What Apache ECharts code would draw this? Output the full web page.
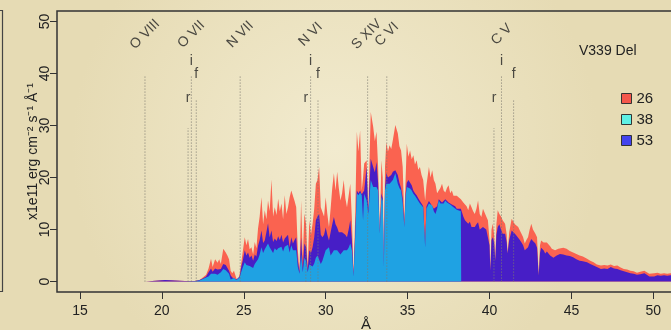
<!DOCTYPE html>
<html>
<head>
<meta charset="utf-8">
<title>V339 Del</title>
<script src="https://cdn.jsdelivr.net/npm/echarts@6/dist/echarts.min.js"></script>
<style>
  html, body { margin: 0; padding: 0; }
  #chart { width: 671px; height: 330px; }
</style>
</head>
<body>
<div id="chart"></div>
<script>
// wavelength grid (Angstrom) and fluxes (x1e11 erg cm-2 s-1 A-1)
const wave = [
  13.6, 19.0, 19.6, 20.2, 20.8, 21.4, 22.0, 22.3, 22.5, 22.7,
  22.85, 23.0, 23.1, 23.25, 23.4, 23.5, 23.6, 23.75, 23.9, 24.0,
  24.1, 24.2, 24.3, 24.4, 24.55, 24.65, 24.75, 24.85, 24.95, 25.06,
  25.16, 25.26, 25.36, 25.47, 25.57, 25.67, 25.77, 25.87, 25.97, 26.08,
  26.18, 26.28, 26.38, 26.48, 26.58, 26.69, 26.79, 26.89, 27.0, 27.1,
  27.2, 27.3, 27.4, 27.5, 27.6, 27.7, 27.8, 27.9, 28.0, 28.1,
  28.2, 28.3, 28.4, 28.5, 28.6, 28.7, 28.8, 28.9, 29.0, 29.1,
  29.2, 29.3, 29.4, 29.5, 29.6, 29.7, 29.8, 29.9, 30.0, 30.1,
  30.2, 30.3, 30.4, 30.5, 30.6, 30.7, 30.8, 30.9, 31.0, 31.1,
  31.2, 31.3, 31.4, 31.5, 31.6, 31.7, 31.8, 31.9, 32.0, 32.1,
  32.2, 32.28, 32.35, 32.5, 32.6, 32.75, 32.9, 33.0, 33.1, 33.2,
  33.3, 33.4, 33.48, 33.55, 33.62, 33.7, 33.8, 33.9, 34.0, 34.1,
  34.25, 34.4, 34.5, 34.6, 34.7, 34.8, 34.88, 34.95, 35.05, 35.15,
  35.25, 35.35, 35.45, 35.55, 35.65, 35.75, 35.85, 35.95, 36.07, 36.15,
  36.3, 36.4, 36.5, 36.6, 36.7, 36.8, 36.9, 37.0, 37.1, 37.2,
  37.3, 37.4, 37.5, 37.6, 37.7, 37.8, 37.9, 38.0, 38.1, 38.25,
  38.27, 38.4, 38.5, 38.6, 38.7, 38.8, 38.9, 39.0, 39.1, 39.2,
  39.3, 39.4, 39.5, 39.6, 39.7, 39.8, 39.9, 40.0, 40.05, 40.12,
  40.2, 40.28, 40.35, 40.42, 40.5, 40.6, 40.7, 40.8, 40.9, 40.95,
  41.05, 41.1, 41.2, 41.35, 41.45, 41.55, 41.65, 41.75, 41.85, 41.95,
  42.05, 42.15, 42.25, 42.35, 42.45, 42.55, 42.65, 42.8, 42.9, 43.0,
  43.08, 43.15, 43.3, 43.4, 43.5, 43.6, 43.7, 43.8, 43.9, 44.0,
  44.1, 44.2, 44.3, 44.5, 44.7, 44.9, 45.1, 45.3, 45.5, 45.7,
  45.95, 46.15, 46.35, 46.55, 46.8, 47.0, 47.2, 47.4, 47.6, 47.8,
  48.0, 48.2, 48.4, 48.6, 48.8, 49.0, 49.2, 49.45, 49.6, 49.75,
  50.05, 50.25, 50.45, 50.65, 50.85, 51.05, 51.35
]

// day 26
const flux26 = [
  0, 0, 0.15, 0.3, 0.2, 0.1, 0.1, 0.3, 0.8, 1.3,
  2.5, 4.4, 2.8, 4.3, 3.6, 4.3, 3.4, 6.3, 5.6, 5.0,
  4.3, 2.1, 1.6, 2.1, 0.6, 0.2, 1.5, 3.7, 6.0, 8.5,
  7.0, 8.2, 6.2, 6.6, 5.2, 7.6, 6.4, 10.2, 12.5, 16.2,
  11.0, 13.7, 12.0, 15.6, 13.5, 19.6, 12.5, 14.3, 12.8, 15.9,
  13.5, 15.0, 12.0, 16.6, 13.0, 14.3, 16.2, 17.5, 17.5, 15.5,
  14.3, 6.0, 2.1, 15.6, 4.7, 13.1, 11.1, 2.8, 11.8, 9.0,
  11.1, 14.0, 18.8, 19.5, 22.0, 14.3, 14.3, 12.5, 16.2, 13.0,
  10.5, 14.0, 18.0, 20.8, 17.5, 21.1, 18.0, 15.6, 17.0, 19.5,
  16.0, 14.3, 16.5, 18.8, 12.0, 1.5, 12.4, 28.8, 25.0, 29.1,
  17.5, 20.0, 22.7, 23.3, 13.7, 32.6, 29.7, 27.0, 28.8, 22.0,
  9.2, 23.3, 20.0, 2.8, 22.0, 26.8, 25.0, 26.2, 25.5, 27.2,
  30.1, 28.5, 26.0, 25.2, 22.0, 12.0, 20.0, 26.5, 24.0, 25.2,
  23.5, 24.3, 22.5, 23.3, 21.5, 22.0, 20.5, 19.5, 15.6, 18.5,
  22.0, 20.0, 21.4, 19.5, 18.8, 17.0, 17.5, 18.0, 18.8, 17.5,
  17.1, 18.0, 18.5, 17.0, 17.5, 16.5, 16.2, 16.5, 16.2, 15.8,
  15.6, 15.2, 15.0, 14.5, 13.7, 15.0, 14.3, 13.5, 13.0, 14.0,
  15.6, 13.0, 12.4, 14.0, 13.7, 12.5, 11.8, 8.0, 2.1, 10.0,
  11.1, 9.0, 4.0, 11.0, 13.7, 13.0, 12.5, 11.8, 12.0, 11.1,
  9.0, 5.4, 9.5, 12.1, 11.5, 11.0, 10.8, 10.5, 9.8, 9.2,
  8.5, 7.3, 8.0, 8.5, 10.0, 11.1, 10.0, 9.2, 8.5, 1.2,
  7.0, 7.9, 7.5, 7.3, 7.5, 7.6, 6.8, 6.3, 6.2, 6.0,
  6.3, 6.3, 6.6, 6.5, 6.3, 5.9, 5.6, 5.3, 5.0, 4.8,
  4.4, 4.0, 3.7, 3.3, 3.1, 3.2, 3.1, 3.3, 3.0, 3.1,
  2.7, 2.4, 2.3, 2.1, 2.0, 1.7, 1.9, 2.1, 1.8, 1.5,
  1.6, 1.7, 1.5, 1.6, 1.5, 1.6, 1.6
]

// day 53
const flux53 = [
  0, 0, 0.15, 0.3, 0.2, 0.1, 0.1, 0.3, 0.6, 1.0,
  1.8, 2.5, 1.9, 2.5, 2.3, 2.6, 2.4, 3.4, 3.2, 2.9,
  2.1, 1.2, 0.8, 1.0, 0.4, 0.2, 1.0, 2.9, 4.2, 6.0,
  5.0, 5.6, 4.6, 5.0, 4.0, 5.2, 4.8, 6.9, 8.0, 9.8,
  7.4, 7.9, 9.5, 11.2, 8.5, 9.8, 7.6, 8.3, 7.8, 8.7,
  8.0, 9.0, 7.5, 8.3, 8.4, 9.0, 6.6, 8.5, 7.3, 8.0,
  8.5, 4.0, 1.8, 8.5, 2.5, 7.3, 6.6, 2.2, 6.0, 5.5,
  6.6, 8.5, 11.8, 12.5, 13.0, 9.0, 8.5, 9.0, 10.4, 9.0,
  7.9, 9.5, 11.0, 12.4, 11.0, 10.4, 9.5, 9.2, 9.5, 9.8,
  9.0, 8.5, 10.0, 11.8, 8.0, 1.2, 9.5, 17.5, 17.0, 17.5,
  16.8, 17.0, 17.5, 22.0, 13.5, 23.6, 22.0, 21.0, 23.0, 19.0,
  9.2, 17.0, 16.0, 2.8, 18.0, 20.8, 20.0, 20.1, 20.5, 21.1,
  21.4, 20.5, 19.0, 18.0, 16.0, 10.5, 17.0, 19.0, 19.5, 19.5,
  18.5, 17.5, 17.0, 16.6, 16.0, 15.5, 15.0, 14.5, 7.0, 14.5,
  15.5, 15.0, 15.0, 14.0, 13.7, 14.5, 15.8, 15.5, 15.2, 15.5,
  15.8, 15.5, 15.2, 15.0, 14.8, 14.5, 14.5, 14.0, 14.3, 14.0,
  13.7, 12.5, 11.8, 12.0, 11.1, 11.5, 10.5, 10.8, 10.5, 11.0,
  11.4, 10.0, 9.8, 10.5, 10.8, 10.0, 9.8, 7.0, 2.1, 8.0,
  8.5, 7.5, 4.0, 9.0, 10.5, 11.0, 10.0, 9.2, 9.5, 9.2,
  7.5, 5.4, 8.0, 9.8, 9.5, 9.2, 8.8, 8.5, 8.0, 7.5,
  7.0, 6.0, 6.3, 6.6, 7.5, 8.2, 7.8, 7.3, 6.5, 1.2,
  5.5, 6.5, 6.0, 5.4, 5.8, 5.6, 5.0, 4.7, 4.6, 4.4,
  5.0, 5.0, 5.3, 5.2, 5.0, 4.9, 4.7, 4.3, 4.0, 3.9,
  3.7, 3.4, 3.1, 2.8, 2.4, 2.5, 2.4, 2.8, 2.5, 2.4,
  2.2, 2.0, 1.8, 1.6, 1.5, 1.3, 1.4, 1.6, 1.3, 1.0,
  1.0, 1.2, 1.1, 1.2, 1.1, 1.2, 1.2
]

// day 38 (no data beyond ~38.3 A)
const flux38 = [
  0, 0, 0, 0, 0, 0, 0.05, 0.2, 0.5, 0.8,
  1.0, 1.5, 1.2, 1.5, 1.3, 1.6, 1.8, 2.4, 2.2, 2.0,
  1.5, 0.4, 0.5, 0.7, 0.3, 0.2, 0.8, 1.9, 2.8, 3.7,
  3.2, 3.4, 3.0, 3.1, 2.6, 3.4, 3.6, 4.3, 5.2, 6.6,
  5.5, 6.2, 6.5, 7.3, 6.6, 6.7, 5.5, 6.4, 6.0, 6.4,
  6.2, 6.7, 5.8, 6.7, 6.8, 7.1, 5.6, 7.0, 6.0, 6.0,
  6.0, 2.8, 1.5, 5.2, 1.8, 4.6, 4.0, 1.8, 3.3, 3.0,
  2.9, 3.5, 4.6, 5.0, 5.2, 3.4, 4.0, 5.0, 6.0, 6.2,
  6.6, 5.0, 5.5, 6.0, 6.0, 6.0, 5.8, 5.2, 5.5, 6.0,
  6.0, 6.0, 6.5, 7.3, 6.0, 1.0, 8.5, 17.0, 16.6, 17.1,
  16.6, 11.8, 16.9, 15.6, 13.0, 19.5, 18.2, 18.0, 18.2, 17.5,
  9.2, 16.2, 15.5, 2.8, 17.5, 18.8, 18.5, 18.8, 19.0, 19.5,
  20.8, 18.8, 18.0, 17.5, 15.0, 10.5, 16.5, 18.2, 18.0, 17.9,
  17.5, 16.9, 16.5, 16.2, 15.5, 15.0, 14.8, 14.3, 6.6, 14.0,
  15.0, 14.8, 14.6, 13.5, 13.0, 14.0, 15.6, 15.0, 15.0, 15.0,
  15.6, 15.2, 15.0, 14.8, 14.6, 14.3, 14.3, 13.8, 13.7, 13.5,
  0
]

const xTicks = [15, 20, 25, 30, 35, 40, 45, 50]
const yTicks = [0, 10, 20, 30, 40, 50]

// line identifications
const ionNames = ['O VIII', 'O VII', 'N VII', 'N VI', 'S XIV', 'C VI', 'C V']
const ionWave = [18.97, 21.8, 24.78, 29.08, 32.5, 33.73, 40.74]
const singleWave = [18.97, 24.78, 32.56, 33.73]
const tripletR = [21.6, 28.79, 40.27]
const tripletI = [21.8, 29.08, 40.73]
const tripletF = [22.1, 29.53, 41.47]

const FONT = "'Liberation Sans', Arial, sans-serif"
const INK = '#222'

function areaSeries(name, values, color) {
  return {
    name,
    type: 'line',
    data: wave.map((w, i) => [w, values[i] === undefined ? null : values[i]]),
    symbol: 'none',
    showSymbol: false,
    connectNulls: false,
    lineStyle: { width: 0 },
    itemStyle: { color },
    areaStyle: { color, opacity: 1 },
    silent: true,
    z: 2
  }
}

// dotted guide lines, broken by nulls
const guides = []
singleWave.forEach(w => guides.push([w, 0], [w, 39.5], [w, null]))
tripletI.forEach(w => guides.push([w, 0], [w, 39.5], [w, null]))
tripletF.forEach(w => guides.push([w, 0], [w, 34.9], [w, null]))
tripletR.forEach(w => guides.push([w, 0], [w, 29.5], [w, null]))

const labels = []
ionNames.forEach((n, i) => labels.push([ionWave[i], 47.5, n, 45]))
tripletI.forEach(w => labels.push([w, 42.3, 'i', 0]))
tripletF.forEach(w => labels.push([w, 39.8, 'f', 0]))
tripletR.forEach(w => labels.push([w, 35.2, 'r', 0]))

const chart = echarts.init(document.getElementById('chart'))
chart.setOption({
  animation: false,
  backgroundColor: {
    type: 'radial', x: 0.5, y: 0.45, r: 0.8,
    colorStops: [
      { offset: 0, color: '#f2ebcf' },
      { offset: 1, color: '#e6dbb4' }
    ]
  },
  textStyle: { fontFamily: FONT, color: INK },
  title: {
    text: 'V339 Del',
    left: 574,
    top: 39,
    textStyle: { fontSize: 14, fontWeight: 'normal', color: INK, fontFamily: FONT }
  },
  legend: {
    orient: 'vertical',
    left: 616,
    top: 86,
    icon: 'rect',
    itemWidth: 10,
    itemHeight: 10,
    itemGap: 6,
    textStyle: { fontSize: 15, color: INK, fontFamily: FONT },
    data: [
      { name: '26', itemStyle: { color: '#f4574b', borderColor: '#333', borderWidth: 1 } },
      { name: '38', itemStyle: { color: '#5ef0e4', borderColor: '#333', borderWidth: 1 } },
      { name: '53', itemStyle: { color: '#4343ee', borderColor: '#333', borderWidth: 1 } }
    ]
  },
  grid: {
    left: 57,
    top: 11,
    right: -4,
    bottom: 38,
    outerBoundsMode: 'none',
    containLabel: false,
    show: true,
    borderColor: '#333',
    borderWidth: 1.5,
    backgroundColor: 'transparent'
  },
  xAxis: {
    type: 'value',
    min: 13.6,
    max: 51.32,
    splitLine: { show: false },
    axisLine: { show: false, onZero: false },
    axisTick: { show: true, length: 7, customValues: xTicks, lineStyle: { color: '#333' } },
    axisLabel: { customValues: xTicks, margin: 12, fontSize: 14, color: INK, fontFamily: FONT },
    name: 'Å',
    nameLocation: 'middle',
    nameGap: 25,
    nameMoveOverlap: false,
    nameTextStyle: { fontSize: 15, color: INK, fontFamily: FONT }
  },
  yAxis: {
    type: 'value',
    min: -2,
    max: 52,
    splitLine: { show: false },
    axisLine: { show: false, onZero: false },
    axisTick: { show: true, length: 7, customValues: yTicks, lineStyle: { color: '#333' } },
    axisLabel: { customValues: yTicks, rotate: 90, margin: 5, fontSize: 14, color: INK, fontFamily: FONT },
    name: 'x1e11 erg cm⁻² s⁻¹ Å⁻¹',
    nameLocation: 'middle',
    nameGap: 17,
    nameMoveOverlap: false,
    nameTextStyle: { fontSize: 14, color: INK, fontFamily: FONT }
  },
  graphic: [
    {
      type: 'polyline',
      shape: { points: [[0, 10.5], [2.5, 10.5], [2.5, 291.5], [0, 291.5]] },
      style: { stroke: '#444', lineWidth: 1.2, fill: null },
      silent: true
    }
  ],
  series: [
    areaSeries('26', flux26, '#fa6350'),
    areaSeries('53', flux53, '#471ec6'),
    areaSeries('38', flux38, '#1fa2e3'),
    {
      type: 'line',
      data: guides,
      symbol: 'none',
      connectNulls: false,
      lineStyle: { color: '#7d7a70', width: 1, type: [1, 2] },
      silent: true,
      z: 4
    },
    {
      type: 'scatter',
      data: labels,
      symbolSize: 0,
      silent: true,
      z: 5,
      label: {
        show: true,
        position: 'inside',
        fontSize: 14,
        color: INK,
        fontFamily: FONT,
        formatter: p => p.data[2]
      },
      labelLayout: p => ({ rotate: labels[p.dataIndex][3] })
    }
  ]
})
</script>
</body>
</html>
